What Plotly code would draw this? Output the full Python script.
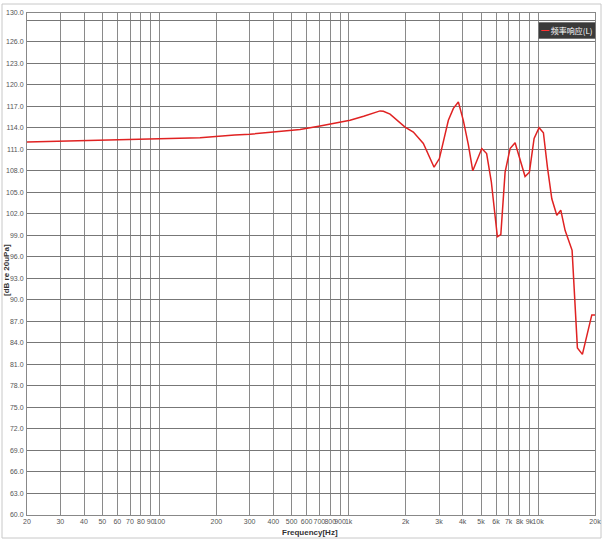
import plotly.graph_objects as go
import math

freq_hz = [20, 40, 62, 100, 164, 250, 301, 400, 554, 706, 850, 1017, 1200, 1297, 1465, 1525,
           1654, 1985, 2196, 2480, 2826, 3014, 3362, 3573, 3796, 4034, 4288, 4524, 5048, 5353,
           5666, 6102, 6362, 6702, 7122, 7568, 8041, 8544, 9006, 9536, 10132, 10680, 11212,
           11828, 12566, 13192, 13900, 15136, 16148, 17158, 19236, 20000]
level_db = [112.0, 112.2, 112.4, 112.5, 112.6, 113.0, 113.1, 113.4, 113.75, 114.25, 114.7, 115.05,
            115.6, 115.9, 116.35, 116.3, 115.9, 114.1, 113.4, 111.8, 108.5, 109.7, 115.05, 116.7,
            117.6, 115.0, 111.6, 108.0, 111.1, 110.4, 106.5, 98.8, 99.1, 107.8, 111.1, 111.9,
            109.7, 107.2, 107.8, 112.5, 114.0, 113.3, 108.5, 104.1, 101.8, 102.5, 99.7, 96.9,
            83.3, 82.4, 87.9, 87.9]

x_tick_vals = [20, 30, 40, 50, 60, 70, 80, 90, 100, 200, 300, 400, 500, 600, 700, 800, 900,
               1000, 2000, 3000, 4000, 5000, 6000, 7000, 8000, 9000, 10000, 20000]
x_tick_text = ["20", "30", "40", "50", "60", "70", "80", "90", "100", "200", "300", "400", "500",
               "600", "700", "800", "900", "1k", "2k", "3k", "4k", "5k", "6k", "7k", "8k", "9k",
               "10k", "20k"]
y_tick_vals = list(range(60, 130, 3)) + [130]
y_tick_text = ["" if v == 129 else f"{v:.1f}" for v in y_tick_vals]

series_name = "频率响应(L)"
line_color = "#e02222"

fig = go.Figure()
fig.add_trace(go.Scatter(x=freq_hz, y=level_db, mode="lines", name=series_name,
                         line=dict(color=line_color, width=1.5), showlegend=False))

x_tick_font = dict(family="Liberation Sans Narrow, Liberation Sans, Arial", size=7, color="#555555")
y_tick_font = dict(family="Liberation Sans Narrow, Liberation Sans, Arial", size=7, color="#555555")

W, H = 606, 543
L, R, T, B = 27, 11, 13, 28
pw, ph = W - L - R, H - T - B

def px_x(p):
    return (p - L) / pw

def px_y(p):
    return 1 - (p - T) / ph

fig.update_layout(
    width=W, height=H,
    margin=dict(l=L, r=R, t=T, b=B),
    paper_bgcolor="white", plot_bgcolor="white",
    font=dict(family="Liberation Sans, Noto Sans CJK SC", size=8, color="#333333"),
    showlegend=False,
    xaxis=dict(type="log", range=[math.log10(20), math.log10(20000)],
               tickmode="array", tickvals=x_tick_vals, ticktext=x_tick_text, tickangle=0,
               tickfont=x_tick_font, showgrid=True, gridcolor="#8a8a8a", gridwidth=1,
               showline=True, linecolor="#888888", linewidth=1, mirror=True,
               ticks="", zeroline=False, automargin=False, ticklabelstandoff=0),
    yaxis=dict(range=[60, 130], tickmode="array", tickvals=y_tick_vals, ticktext=y_tick_text,
               tickfont=y_tick_font, showgrid=True, gridcolor="#777777", gridwidth=1,
               showline=True, linecolor="#888888", linewidth=1, mirror=True,
               ticks="", zeroline=False, automargin=False, ticklabelstandoff=1),
    shapes=[dict(type="rect", xref="paper", yref="paper",
                 x0=px_x(2), x1=px_x(601), y0=px_y(538), y1=px_y(4),
                 line=dict(color="#c8c8c8", width=1), fillcolor="rgba(0,0,0,0)", layer="below")],
    annotations=[
        dict(text="<b>Frequency[Hz]</b>", xref="paper", yref="paper", x=px_x(310), y=px_y(532),
             xanchor="center", yanchor="middle", showarrow=False,
             font=dict(size=8, color="#333333")),
        dict(text="<b>[dB re 20uPa]</b>", xref="paper", yref="paper", x=px_x(6), y=px_y(270),
             xanchor="center", yanchor="middle", showarrow=False, textangle=-90,
             font=dict(size=8, color="#333333")),
        dict(text=f"<span style='color:#ff3333'>━</span> {series_name}", xref="paper", yref="paper",
             x=px_x(596), y=px_y(22), xanchor="right", yanchor="top", showarrow=False,
             bgcolor="#3a3a3a", bordercolor="#777777", borderwidth=1, borderpad=2,
             font=dict(size=8, color="white", family="Noto Sans CJK SC")),
    ],
)

fig.write_html("out.html", config={"displayModeBar": False},
               post_script="document.body.style.margin='0';")
